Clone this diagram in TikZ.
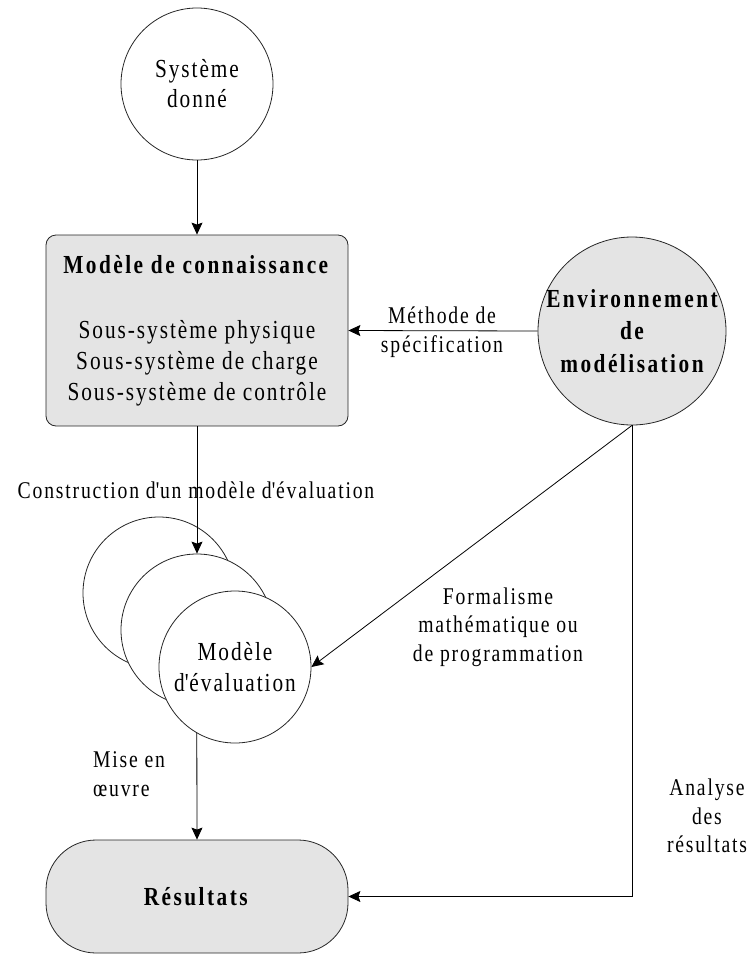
\documentclass[tikz,border=0pt]{standalone}
\usepackage{fontspec}
\setmainfont{Liberation Serif}[FakeStretch=0.82,LetterSpace=7.5,BoldFeatures={LetterSpace=9.5}]
\usetikzlibrary{arrows.meta}
\definecolor{panelgray}{HTML}{E4E4E4}
\tikzset{
  nodefont/.style={font=\fontsize{26}{31}\selectfont},
  labelfont/.style={font=\fontsize{24}{28.5}\selectfont},
  disc/.style={circle, draw=black!85, line width=0.8pt, inner sep=0pt, align=center, nodefont},
  panel/.style={draw=black!85, line width=0.8pt, fill=panelgray, inner sep=0pt, align=center, nodefont},
  tag/.style={labelfont, align=center, inner sep=0pt},
  link/.style={line width=0.8pt, -{Stealth[length=12pt,width=11pt,inset=2pt]}},
}
\begin{document}
\begin{tikzpicture}[x=1pt,y=-1pt]
  \useasboundingbox (0,0) rectangle (747,954);

  % main blocks
  \node[disc, minimum size=152pt] (sys) at (197,84) {Système\\[-1pt]donné};
  \node[panel, rounded corners=10pt, minimum width=302pt, minimum height=191pt] (know) at (197,330.5)
    {\textbf{Modèle de connaissance}\\[34pt]Sous-système physique\\Sous-système de charge\\Sous-système de contrôle};
  \node[disc, fill=panelgray, minimum size=188pt] (env) at (632,331) {};
  \node[nodefont, align=center, inner sep=0pt, font=\fontsize{26}{32.5}\selectfont\bfseries] (envtext) at (env.center)
    {Environnement\\de\\modélisation};

  % stacked evaluation models
  \node[disc, fill=white, minimum size=152pt] (ev1) at (159,593) {};
  \node[disc, fill=white, minimum size=152pt] (ev2) at (197,630) {};
  \node[disc, fill=white, minimum size=152pt] (ev3) at (235,667) {Modèle\\d\textquotesingle évaluation};

  \node[panel, rounded corners=50pt, minimum width=302pt, minimum height=113pt] (res) at (197,896.5)
    {\textbf{Résultats}};

  % connector labels
  \node[tag] (lconstr) at (196,490) {Construction d\textquotesingle un modèle d\textquotesingle évaluation};
  \node[tag] (lmeth) at (442,332) {Méthode de\\spécification};
  \node[tag] (lform) at (498,627) {Formalisme\\mathématique ou\\de programmation};
  \node[tag, align=left, anchor=west] (lmise) at (93,774) {Mise en\\œuvre};
  \node[tag] (lanal) at (707,816) {Analyse\\des\\résultats};

  % connectors
  \draw[link] (sys.south) -- (know.north);
  \draw[link] (env.west) -- (know.east);
  \draw[link] (know.south) -- (ev2.north);
  \draw[link] (env.south) -- (ev3.east);
  \draw[link] (ev3.-120) -- (res.north);
  \draw[link] (env.south) |- (res.east);
\end{tikzpicture}
\end{document}
